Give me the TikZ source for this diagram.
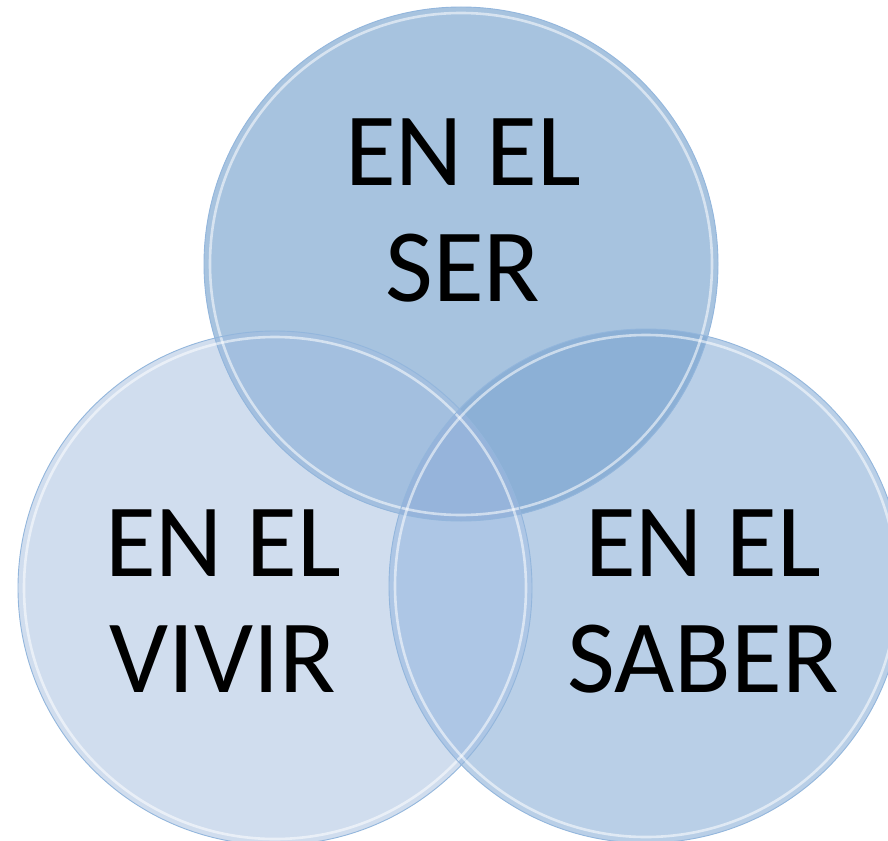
\documentclass[tikz,border=0pt]{standalone}
\usepackage{fontspec}
\setmainfont{Carlito}
\usepackage{tikz}

\definecolor{serblue}{HTML}{A7C3DF}
\definecolor{vivirblue}{HTML}{D0DDEE}
\definecolor{saberblue}{HTML}{B9CFE7}
\definecolor{servivir}{HTML}{A3BFDF}
\definecolor{sersaber}{HTML}{8CB0D6}
\definecolor{vivirsaber}{HTML}{ADC6E5}
\definecolor{allthree}{HTML}{96B4DB}
\definecolor{rimblue}{HTML}{93B6DC}

\begin{document}
\begin{tikzpicture}
 [ x=1pt
 , y=-1pt
 , big text/.style={font=\fontsize{104}{116}\selectfont, align=center, inner sep=0pt}
 , rim/.style={draw=rimblue, line width=0.9pt}
 , glare/.style={draw=white, draw opacity=0.55, line width=2.6pt}
 ]
  \useasboundingbox (0,0) rectangle (888,840);
  \clip (0,0) rectangle (888,840);
  \def\rad{257}
  \coordinate (ser) at (461,264);
  \coordinate (vivir) at (275,588);
  \coordinate (saber) at (646,586);

  % plain circles
  \fill [vivirblue] (vivir) circle (\rad);
  \fill [saberblue] (saber) circle (\rad);
  \fill [serblue] (ser) circle (\rad);

  % overlaps
  \begin{scope}
    \clip (ser) circle (\rad);
    \fill [servivir] (vivir) circle (\rad);
    \fill [sersaber] (saber) circle (\rad);
  \end{scope}
  \begin{scope}
    \clip (vivir) circle (\rad);
    \fill [vivirsaber] (saber) circle (\rad);
    \clip (saber) circle (\rad);
    \fill [allthree] (ser) circle (\rad);
  \end{scope}

  % rims
  \foreach \c in {ser,vivir,saber}
  {
    \draw [rim] (\c) circle (\rad);
    \draw [glare] (\c) circle (\rad-6);
  }

  \node [big text] (enelser) at (463,210) {EN EL\\SER};
  \node [big text] (enelvivir) at (223,601) {EN EL\\VIVIR};
  \node [big text] (enelsaber) at (703,601) {EN EL\\SABER};
\end{tikzpicture}
\end{document}
